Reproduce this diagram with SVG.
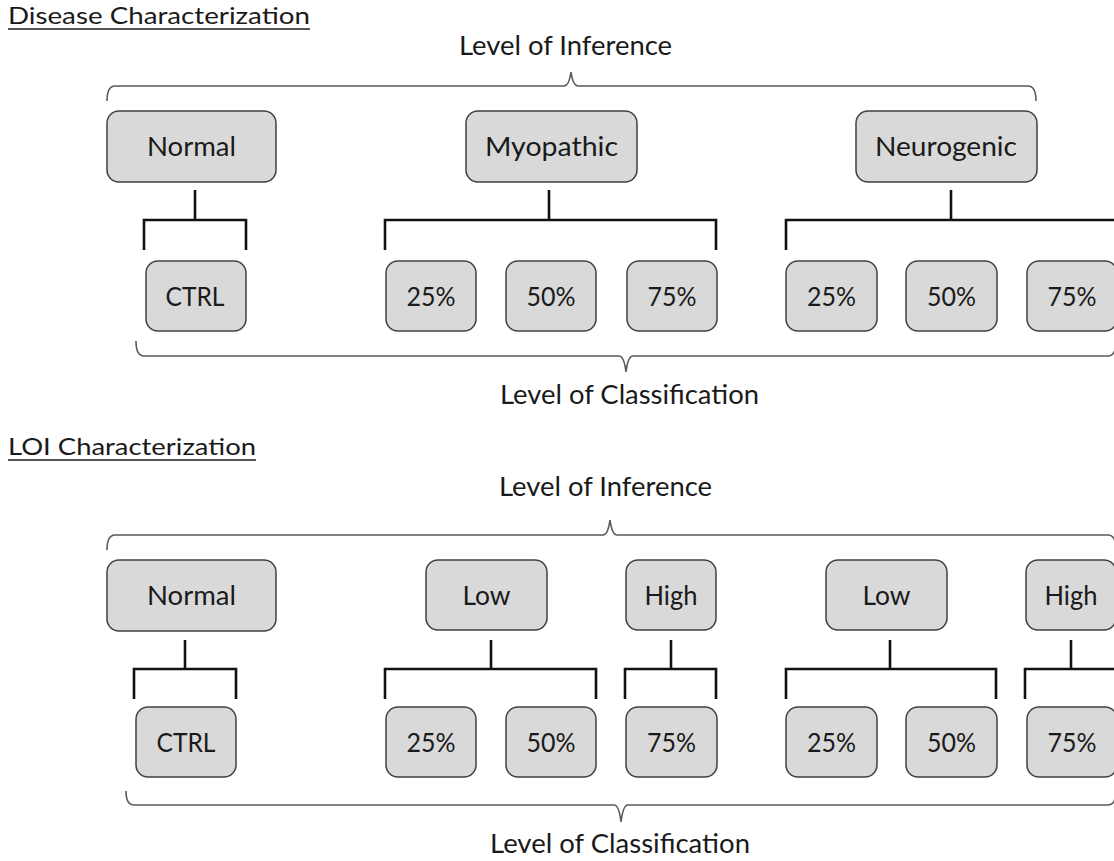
<svg xmlns="http://www.w3.org/2000/svg" width="1114" height="861" viewBox="0 0 1114 861">
<style>
.box{fill:#d9d9d9;stroke:#404040;stroke-width:1.5}
.lbl{font-family:Lato,"Open Sans","Liberation Sans",sans-serif;font-size:26.5px;fill:#1a1a1a;text-anchor:middle}
.cap{font-family:Lato,"Open Sans","Liberation Sans",sans-serif;font-size:26.5px;fill:#1a1a1a}
.ttl{font-family:Lato,"Open Sans","Liberation Sans",sans-serif;font-size:24px;fill:#1a1a1a}
.brace{fill:none;stroke:#5a5a5a;stroke-width:1.6}
.conn{fill:none;stroke:#111;stroke-width:2.6}
.ul{stroke:#1a1a1a;stroke-width:1.6}
</style>
<rect width="1114" height="861" fill="#fff"/>

<g id="titles">
<text class="ttl" x="8" y="24" textLength="302" lengthAdjust="spacingAndGlyphs">Disease Characterization</text>
<line class="ul" x1="8" y1="29" x2="310" y2="29"/>
<text class="ttl" x="8" y="455" textLength="248" lengthAdjust="spacingAndGlyphs">LOI Characterization</text>
<line class="ul" x1="8" y1="460" x2="256" y2="460"/>
<text class="cap" x="459" y="55" textLength="213" lengthAdjust="spacingAndGlyphs">Level of Inference</text>
<text class="cap" x="500" y="404" textLength="259" lengthAdjust="spacingAndGlyphs">Level of Classification</text>
<text class="cap" x="499" y="496" textLength="213" lengthAdjust="spacingAndGlyphs">Level of Inference</text>
<text class="cap" x="490" y="853" textLength="260" lengthAdjust="spacingAndGlyphs">Level of Classification</text>
</g>

<g id="braces">
<path class="brace" d="M107,101 Q107,86 115,86 L564,86 Q569,86 571,72 Q573,86 578,86 L1028,86 Q1036,86 1036,101"/>
<path class="brace" d="M136,341 Q136,356 144,356 L619,356 Q624,356 626,372 Q628,356 633,356 L1108,356 Q1116,356 1116,341"/>
<path class="brace" d="M107,550 Q107,535 115,535 L603,535 Q608,535 610,520 Q612,535 617,535 L1108,535 Q1116,535 1116,550"/>
<path class="brace" d="M126,791 Q126,805 134,805 L614,805 Q619,805 621,822 Q623,805 628,805 L1108,805 Q1116,805 1116,791"/>
</g>

<g id="connectors">
<path class="conn" d="M195,190 V220 M144,250 V220 H246 V250"/>
<path class="conn" d="M549,190 V220 M385,250 V220 H716 V250"/>
<path class="conn" d="M951,190 V220 M786,250 V220 H1118 V250"/>
<path class="conn" d="M185,640 V669 M134,699 V669 H236 V699"/>
<path class="conn" d="M491,640 V669 M385,699 V669 H596 V699"/>
<path class="conn" d="M671,640 V669 M625,699 V669 H716 V699"/>
<path class="conn" d="M890,640 V669 M786,699 V669 H996 V699"/>
<path class="conn" d="M1071,640 V669 M1025,699 V669 H1118 V699"/>
</g>

<g id="d-normal"><rect class="box" x="107" y="111" width="169" height="71" rx="12"/><text class="lbl" x="191.5" y="156" textLength="89" lengthAdjust="spacingAndGlyphs">Normal</text></g>
<g id="d-myopathic"><rect class="box" x="466" y="111" width="171" height="71" rx="12"/><text class="lbl" x="551.5" y="156" textLength="133" lengthAdjust="spacingAndGlyphs">Myopathic</text></g>
<g id="d-neurogenic"><rect class="box" x="856" y="111" width="181" height="71" rx="12"/><text class="lbl" x="946" y="156" textLength="142" lengthAdjust="spacingAndGlyphs">Neurogenic</text></g>
<g id="d-ctrl"><rect class="box" x="146" y="261" width="100" height="70" rx="12"/><text class="lbl" x="195" y="305.5" textLength="59" lengthAdjust="spacingAndGlyphs">CTRL</text></g>
<g id="d-m25"><rect class="box" x="386" y="261" width="90" height="70" rx="12"/><text class="lbl" x="431" y="305.5" textLength="49" lengthAdjust="spacingAndGlyphs">25%</text></g>
<g id="d-m50"><rect class="box" x="506" y="261" width="90" height="70" rx="12"/><text class="lbl" x="551" y="305.5" textLength="49" lengthAdjust="spacingAndGlyphs">50%</text></g>
<g id="d-m75"><rect class="box" x="627" y="261" width="90" height="70" rx="12"/><text class="lbl" x="672" y="305.5" textLength="49" lengthAdjust="spacingAndGlyphs">75%</text></g>
<g id="d-n25"><rect class="box" x="786" y="261" width="91" height="70" rx="12"/><text class="lbl" x="831.5" y="305.5" textLength="49" lengthAdjust="spacingAndGlyphs">25%</text></g>
<g id="d-n50"><rect class="box" x="906" y="261" width="91" height="70" rx="12"/><text class="lbl" x="951.5" y="305.5" textLength="49" lengthAdjust="spacingAndGlyphs">50%</text></g>
<g id="d-n75"><rect class="box" x="1027" y="261" width="90" height="70" rx="12"/><text class="lbl" x="1072" y="305.5" textLength="49" lengthAdjust="spacingAndGlyphs">75%</text></g>

<g id="l-normal"><rect class="box" x="107" y="560" width="169" height="71" rx="12"/><text class="lbl" x="191.5" y="605" textLength="89" lengthAdjust="spacingAndGlyphs">Normal</text></g>
<g id="l-low1"><rect class="box" x="426" y="560" width="121" height="70" rx="12"/><text class="lbl" x="486.5" y="604.5" textLength="48" lengthAdjust="spacingAndGlyphs">Low</text></g>
<g id="l-high1"><rect class="box" x="626" y="560" width="90" height="70" rx="12"/><text class="lbl" x="671" y="604.5" textLength="53" lengthAdjust="spacingAndGlyphs">High</text></g>
<g id="l-low2"><rect class="box" x="826" y="560" width="121" height="70" rx="12"/><text class="lbl" x="886.5" y="604.5" textLength="48" lengthAdjust="spacingAndGlyphs">Low</text></g>
<g id="l-high2"><rect class="box" x="1026" y="560" width="90" height="70" rx="12"/><text class="lbl" x="1071" y="604.5" textLength="53" lengthAdjust="spacingAndGlyphs">High</text></g>
<g id="l-ctrl"><rect class="box" x="136" y="707" width="100" height="70" rx="12"/><text class="lbl" x="186" y="751.5" textLength="59" lengthAdjust="spacingAndGlyphs">CTRL</text></g>
<g id="l-l25"><rect class="box" x="386" y="707" width="90" height="70" rx="12"/><text class="lbl" x="431" y="751.5" textLength="49" lengthAdjust="spacingAndGlyphs">25%</text></g>
<g id="l-l50"><rect class="box" x="506" y="707" width="90" height="70" rx="12"/><text class="lbl" x="551" y="751.5" textLength="49" lengthAdjust="spacingAndGlyphs">50%</text></g>
<g id="l-h75"><rect class="box" x="626" y="707" width="91" height="70" rx="12"/><text class="lbl" x="671.5" y="751.5" textLength="49" lengthAdjust="spacingAndGlyphs">75%</text></g>
<g id="l-l25b"><rect class="box" x="786" y="707" width="91" height="70" rx="12"/><text class="lbl" x="831.5" y="751.5" textLength="49" lengthAdjust="spacingAndGlyphs">25%</text></g>
<g id="l-l50b"><rect class="box" x="906" y="707" width="91" height="70" rx="12"/><text class="lbl" x="951.5" y="751.5" textLength="49" lengthAdjust="spacingAndGlyphs">50%</text></g>
<g id="l-h75b"><rect class="box" x="1027" y="707" width="90" height="70" rx="12"/><text class="lbl" x="1072" y="751.5" textLength="49" lengthAdjust="spacingAndGlyphs">75%</text></g>
</svg>
